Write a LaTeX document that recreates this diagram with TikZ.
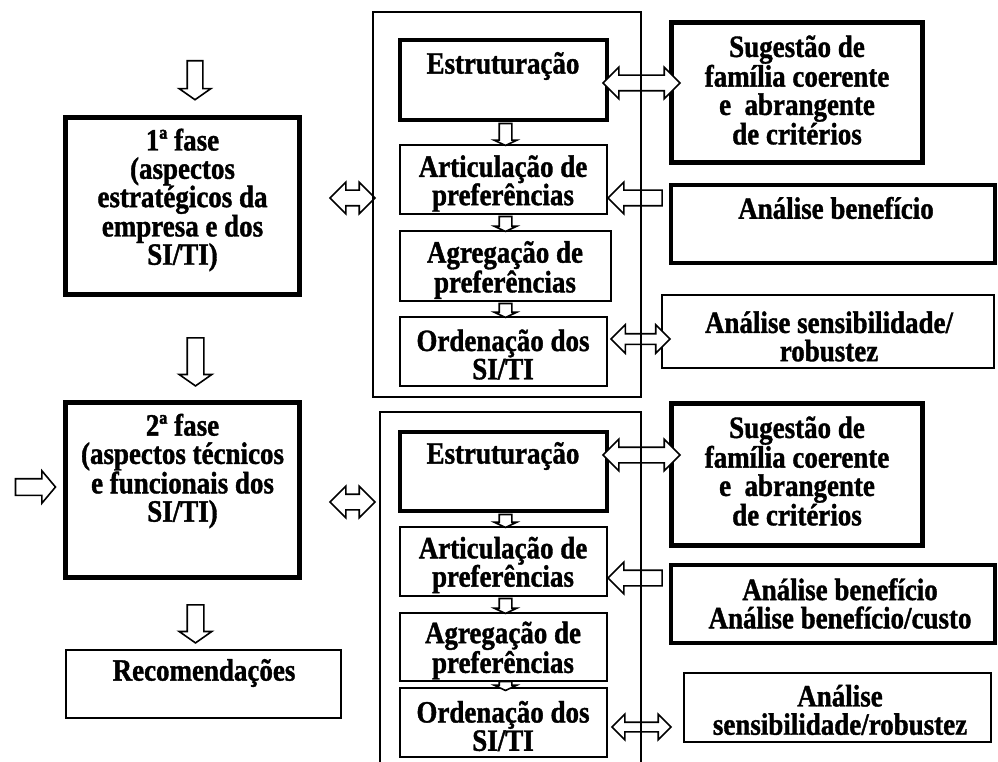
\documentclass[tikz,border=0pt]{standalone}
\usepackage{fontspec}
\setmainfont{Liberation Serif}[FakeStretch=0.87,BoldFeatures={FakeBold=1.2}]
\usetikzlibrary{shapes.arrows}

\begin{document}
\begin{tikzpicture}
[x=1pt,y=-1pt]
\tikzset{box/.style={draw,line width=2pt,inner sep=0pt},
heavy/.style={draw,line width=5pt,inner sep=0pt},
txt/.style={align=center,inner sep=0pt,font=\bfseries\fontsize{31}{28.3}\selectfont},
arr/.style={single arrow,draw,line width=1.6pt,fill=white,inner xsep=0pt,inner ysep=7pt,single arrow head extend=8pt,single arrow tip angle=110},
darr/.style={double arrow,draw,line width=1.6pt,fill=white,inner xsep=0pt,inner ysep=7pt,double arrow head extend=8pt,double arrow tip angle=90},
tinyarr/.style={arr,inner ysep=5.5pt,single arrow head extend=5pt,single arrow tip angle=130}}
\useasboundingbox (0,0) rectangle (998,762);

% phases, left column
\node [heavy,minimum width=234,minimum height=177] (f1) at (182.5,206) {};
\node [heavy,minimum width=234,minimum height=175] (f2) at (182.5,490) {};
\node [box,minimum width=275,minimum height=68] (rec) at (203.5,684) {};
\node [txt] (f1t) at (182.5,200) {1ª fase\\(aspectos\\estratégicos da\\empresa e dos\\SI/TI)};
\node [txt] (f2t) at (182.5,471) {2ª fase\\(aspectos técnicos\\e funcionais dos\\SI/TI)};
\node [txt] (rect) at (204,673) {Recomendações};

% steps of the first phase
\node [heavy,line width=4pt,minimum width=207,minimum height=80] (e1) at (503.5,80) {};
\node [box,minimum width=207,minimum height=69] (ar1) at (503.5,179.5) {};
\node [box,minimum width=211,minimum height=70] (ag1) at (505.5,266) {};
\node [box,minimum width=207,minimum height=69] (or1) at (503.5,351.5) {};
\node [txt] (e1t) at (503,66) {Estruturação};
\node [txt] (ar1t) at (503,183.5) {Articulação de\\preferências};
\node [txt] (ag1t) at (505,270) {Agregação de\\preferências};
\node [txt] (or1t) at (503,354.5) {Ordenação dos\\SI/TI};

% steps of the second phase
\node [heavy,line width=4pt,minimum width=207,minimum height=79] (e2) at (503.5,471.5) {};
\node [box,minimum width=207,minimum height=69] (ar2) at (503.5,561.5) {};
\node [box,minimum width=207,minimum height=68] (ag2) at (503.5,647) {};
\node [box,minimum width=207,minimum height=69] (or2) at (503.5,722.5) {};
\node [txt] (e2t) at (503,456) {Estruturação};
\node [txt] (ar2t) at (503,565) {Articulação de\\preferências};
\node [txt] (ag2t) at (503,650.5) {Agregação de\\preferências};
\node [txt] (or2t) at (503,726) {Ordenação dos\\SI/TI};

% supporting analyses, right column
\node [heavy,minimum width=251,minimum height=140] (s1) at (797,92.5) {};
\node [heavy,line width=4.5pt,minimum width=324,minimum height=78] (b1) at (833,224) {};
\node [box,minimum width=332,minimum height=73] (n1) at (828,331.5) {};
\node [heavy,minimum width=251,minimum height=142] (s2) at (797,474.5) {};
\node [heavy,line width=4.5pt,minimum width=324,minimum height=78] (b2) at (833,604) {};
\node [box,minimum width=307,minimum height=69] (n2) at (837.5,707.5) {};
\node [txt] (s1t) at (797,90) {Sugestão de\\família coerente\\e\ \ abrangente\\de critérios};
\node [txt] (b1t) at (836,208) {Análise benefício};
\node [txt] (n1t) at (829,336.5) {Análise sensibilidade/\\robustez};
\node [txt] (s2t) at (797,471) {Sugestão de\\família coerente\\e\ \ abrangente\\de critérios};
\node [txt] (b2t) at (840,603.5) {Análise benefício\\Análise benefício/custo};
\node [txt] (n2t) at (840,710) {Análise\\sensibilidade/robustez};

% block arrows
\node [arr,rotate=-90,minimum height=39] (a0) at (195,77.5) {};
\node [arr,rotate=-90,minimum height=48,inner ysep=7.5pt] (a1) at (195.5,359) {};
\node [arr,rotate=-90,minimum height=38,inner ysep=7.5pt] (a3) at (195.5,621) {};
\node [arr,minimum height=40,inner ysep=7.5pt,single arrow tip angle=100] (a2) at (32,487) {};
\node [darr,minimum height=45] (d1) at (352.5,198) {};
\node [darr,minimum height=45] (d2) at (352.5,502) {};
\node [darr,minimum height=77] (de1) at (641.5,83) {};
\node [darr,minimum height=77] (de2) at (641.5,455) {};
\node [arr,rotate=180,minimum height=54,single arrow tip angle=90] (l1) at (639,198) {};
\node [arr,rotate=180,minimum height=54,single arrow tip angle=90] (l2) at (639,578) {};
\node [darr,minimum height=59,inner ysep=4.5pt,double arrow head extend=9pt] (ds1) at (640.5,339) {};
\node [darr,minimum height=59,inner ysep=4pt,double arrow head extend=8pt] (ds2) at (641.5,727) {};

\foreach \n/\y/\l in {sa1/133/22,sa2/222.5/15,sa3/309/14,sa4/519.5/13,sa5/604.5/15,sa6/684.5/9}
	\node [tinyarr,rotate=-90,minimum height=\l] (\n) at (505.5,\y) {};

% frames round the steps
\draw [line width=1.5pt] (373,12) rectangle (641,397);
\draw [line width=1.5pt] (380,762) -- (380,412) -- (641,412) -- (641,762);

\end{tikzpicture}
\end{document}
